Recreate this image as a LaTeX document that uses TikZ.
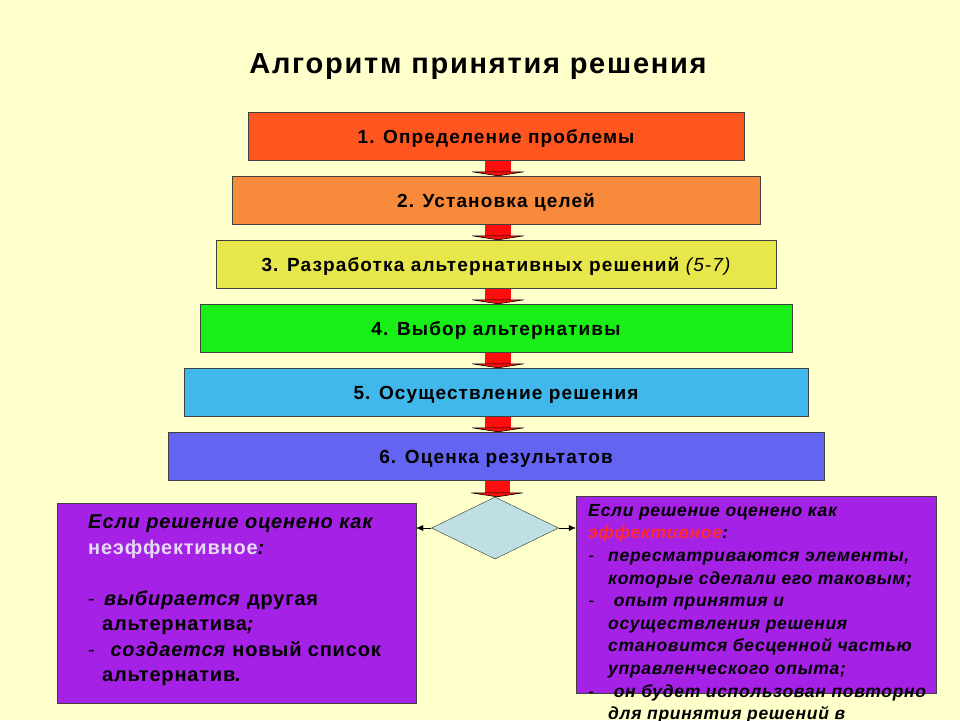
\documentclass[tikz,border=0pt]{standalone}
\usepackage{fontspec}
\setmainfont{Liberation Sans}
\usetikzlibrary{calc,shapes.geometric,arrows.meta}

\definecolor{bgyellow}{HTML}{FFFFCC}
\definecolor{stepone}{HTML}{FF561F}
\definecolor{steptwo}{HTML}{F78A3B}
\definecolor{stepthree}{HTML}{E7E74B}
\definecolor{stepfour}{HTML}{17EF17}
\definecolor{stepfive}{HTML}{40B8EB}
\definecolor{stepsix}{HTML}{6464F2}
\definecolor{arrowred}{HTML}{FF0D0D}
\definecolor{panelpurple}{HTML}{A521E5}
\definecolor{decisionblue}{HTML}{BEE0E2}
\definecolor{lavender}{HTML}{E4DAF2}
\definecolor{effred}{HTML}{FF2A2A}

\tikzset{
  stage/.style={draw=black!75, minimum height=48pt, inner sep=0pt,
    text height=15pt, text depth=0pt,
    font=\fontsize{19}{22}\selectfont\bfseries\addfontfeature{LetterSpace=6}},
  panel/.style={draw=black!75, fill=panelpurple, inner sep=0pt},
  decision/.style={diamond, draw=black!80, fill=decisionblue, aspect=2,
    inner sep=0pt, minimum width=127pt, minimum height=62pt},
}

\begin{document}
\begin{tikzpicture}[x=1pt,y=-1pt]
    \fill[bgyellow] (0,0) rectangle (960,720);
    \useasboundingbox (0,0) rectangle (960,720);

    \node[font=\fontsize{29}{32}\selectfont\bfseries\addfontfeature{LetterSpace=6}] (title) at (478,67) {Алгоритм принятия решения};

    % steps of the algorithm
    \foreach \i/\c/\t in {1/stepone/{1. Определение проблемы},
                          2/steptwo/{2. Установка целей},
                          3/stepthree/{3. Разработка альтернативных решений {\mdseries\itshape (5-7)}},
                          4/stepfour/{4. Выбор альтернативы},
                          5/stepfive/{5. Осуществление решения},
                          6/stepsix/{6. Оценка результатов}}
        \node[stage, fill=\c, minimum width={464+32*\i}] (s\i) at (496,72+64*\i) {\t};

    \node[decision] (dec) at (495,528) {};

    % block arrows between the steps
    \foreach \a/\b in {s1/s2,s2/s3,s3/s4,s4/s5,s5/s6,s6/dec} {
        \fill[arrowred] ($(\a.south)+(-11,0.6)$) rectangle ($(\b.north)+(15,-4)$);
        \filldraw[fill=arrowred, draw=black, line width=0.6pt]
            ($(\b.north)+(-24,-4)$) -- ($(\b.north)+(28,-4)$) -- ($(\b.north)+(2,0)$) -- cycle;
    }

    \node[panel, minimum width=359pt, minimum height=200pt] (lbox) at (236.5,603) {};
    \node[panel, minimum width=360pt, minimum height=197pt] (rbox) at (756,594.5) {};

    \draw[-{Latex[length=7pt,width=6pt]}] (dec.west) -- (dec.west -| lbox.east);
    \draw[-{Latex[length=7pt,width=6pt]}] (dec.east) -- (dec.east -| rbox.west);

    \node[anchor=north west, align=left, inner sep=0pt,
          font=\fontsize{20}{25.5}\selectfont\bfseries\addfontfeature{LetterSpace=4}] (ltext) at (88,515) {%
        \textit{Если решение оценено как}\\
        {\color{lavender}неэффективное}\textit{:}\\[25.5pt]
        \makebox[16pt][l]{\mdseries -}\textit{выбирается} другая\\
        \hspace*{14pt}альтернатива\textit{;}\\
        \makebox[16pt][l]{\mdseries -}\ \textit{создается} новый список\\
        \hspace*{14pt}альтернатив\textit{.}};

    \node[anchor=north west, align=left, inner sep=0pt,
          font=\fontsize{17.5}{22.6}\selectfont\bfseries\itshape\addfontfeature{LetterSpace=4}] (rtext) at (588,504) {%
        Если решение оценено как\\
        {\color{effred}эффективное}:\\
        \makebox[20pt][l]{\mdseries -}пересматриваются элементы,\\
        \hspace*{20pt}которые сделали его таковым;\\
        \makebox[20pt][l]{\mdseries -}\ опыт принятия и\\
        \hspace*{20pt}осуществления решения\\
        \hspace*{20pt}становится бесценной частью\\
        \hspace*{20pt}управленческого опыта;\\
        \makebox[20pt][l]{\mdseries -}\ он будет использован повторно\\
        \hspace*{20pt}для принятия решений в};
\end{tikzpicture}
\end{document}
